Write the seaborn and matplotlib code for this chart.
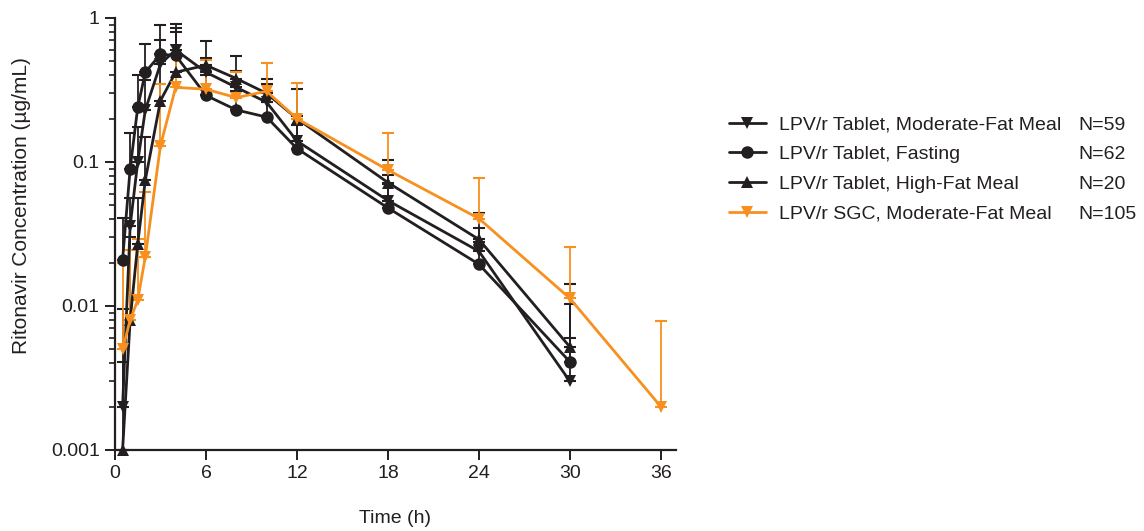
import numpy as np
import pandas as pd
import matplotlib
matplotlib.use("Agg")
import matplotlib.pyplot as plt
from matplotlib.ticker import FixedLocator, FixedFormatter, LogLocator, NullFormatter
import seaborn as sns

# ---------------- data ----------------
series_names = [
    "LPV/r Tablet, Moderate-Fat Meal",
    "LPV/r Tablet, Fasting",
    "LPV/r Tablet, High-Fat Meal",
    "LPV/r SGC, Moderate-Fat Meal",
]
series_n = ["N=59", "N=62", "N=20", "N=105"]

time_tab = [0.5, 1, 1.5, 2, 3, 4, 6, 8, 10, 12, 18, 24, 30]
time_sgc = [0.5, 1, 1.5, 2, 3, 4, 6, 8, 10, 12, 18, 24, 30, 36]

mod_mean = [0.002, 0.036, 0.10, 0.23, 0.48, 0.60, 0.42, 0.33, 0.26, 0.14, 0.054, 0.024, 0.003]
mod_upper = [0.0095, 0.056, 0.176, 0.37, 0.70, 0.91, 0.525, 0.43, 0.348, 0.209, 0.081, 0.035, 0.006]

fast_mean = [0.021, 0.09, 0.24, 0.42, 0.56, 0.55, 0.29, 0.23, 0.205, 0.124, 0.048, 0.0195, 0.0041]
fast_upper = [0.041, 0.16, 0.40, 0.656, 0.89, 0.85, 0.40, 0.31, 0.26, 0.18, 0.07, 0.028, 0.0103]

high_mean = [0.001, 0.008, 0.027, 0.075, 0.267, 0.42, 0.47, 0.38, 0.30, 0.20, 0.072, 0.029, 0.0052]
high_upper = [0.0041, 0.030, 0.056, 0.15, 0.50, 0.80, 0.69, 0.547, 0.375, 0.32, 0.104, 0.044, 0.0142]

sgc_mean = [0.005, 0.008, 0.011, 0.022, 0.13, 0.33, 0.32, 0.28, 0.31, 0.20, 0.088, 0.0405, 0.0113, 0.002]
sgc_upper = [0.02, 0.0245, 0.029, 0.062, 0.35, 0.65, 0.51, 0.424, 0.49, 0.356, 0.16, 0.078, 0.0256, 0.0079]

y_ticks = [0.001, 0.01, 0.1, 1]
y_tick_labels = ["0.001", "0.01", "0.1", "1"]
x_ticks = [0, 6, 12, 18, 24, 30, 36]

# ---------------- styling ----------------
BLACK = "#231f20"
ORANGE = "#f7901e"
colors = [BLACK, BLACK, BLACK, ORANGE]
markers = ["v", "o", "^", "v"]

sns.set_theme(style="ticks")
plt.rcParams["font.family"] = ["Liberation Sans", "DejaVu Sans"]

frames = []
for name, t, m in [
    (series_names[0], time_tab, mod_mean),
    (series_names[1], time_tab, fast_mean),
    (series_names[2], time_tab, high_mean),
    (series_names[3], time_sgc, sgc_mean),
]:
    frames.append(pd.DataFrame({"time": t, "conc": m, "group": name}))
df = pd.concat(frames, ignore_index=True)

fig = plt.figure(figsize=(11.44, 5.31), dpi=100)
ax = fig.add_axes([115 / 1144, 1 - 450 / 531, (676 - 115) / 1144, (450 - 18) / 531])

# error bars (upper only)
uppers = [mod_upper, fast_upper, high_upper, sgc_upper]
means = [mod_mean, fast_mean, high_mean, sgc_mean]
times = [time_tab, time_tab, time_tab, time_sgc]
for i in range(4):
    m = np.array(means[i])
    u = np.array(uppers[i])
    ax.errorbar(times[i], m, yerr=[np.zeros_like(m), u - m], fmt="none",
                ecolor=colors[i], elinewidth=1.3, capsize=4.3, capthick=1.5,
                zorder=2 + i)

sns.lineplot(data=df, x="time", y="conc", hue="group", style="group",
             hue_order=series_names, style_order=series_names,
             palette=dict(zip(series_names, colors)),
             markers=dict(zip(series_names, markers)),
             dashes=False, markersize=9, markeredgewidth=0,
             linewidth=2.0, ax=ax, legend=True, zorder=5)

for ln in ax.get_lines():
    ln.set_clip_on(False)
    if matplotlib.colors.to_hex(ln.get_color()) == ORANGE:
        ln.set_zorder(8)

ax.set_yscale("log")
ax.set_ylim(0.001, 1)
ax.set_xlim(0, 37)
ax.yaxis.set_major_locator(FixedLocator(y_ticks))
ax.yaxis.set_major_formatter(FixedFormatter(y_tick_labels))
ax.yaxis.set_minor_locator(LogLocator(base=10, subs=np.arange(2, 10)))
ax.yaxis.set_minor_formatter(NullFormatter())
ax.set_xticks(x_ticks)
ax.set_xticklabels([str(v) for v in x_ticks])

for s in ["top", "right"]:
    ax.spines[s].set_visible(False)
for s in ["left", "bottom"]:
    ax.spines[s].set_color(BLACK)
    ax.spines[s].set_linewidth(1.6)

ax.tick_params(axis="both", which="major", direction="out", length=7, width=1.4,
               colors=BLACK, labelsize=14, pad=4)
ax.tick_params(axis="y", which="minor", direction="out", length=4, width=1.2, colors=BLACK)
ax.tick_params(axis="x", which="minor", length=0)

ax.set_xlabel("Time (h)", fontsize=14, color=BLACK, labelpad=20)
ax.set_ylabel("Ritonavir Concentration (\u00b5g/mL)", fontsize=15, color=BLACK)
ax.yaxis.set_label_coords(-0.15, 0.565)
ax.grid(False)

# legend
handles, labels = ax.get_legend_handles_labels()
leg = ax.legend(handles, labels, loc="upper left",
                bbox_to_anchor=(729 / 1144, 1 - 116 / 531), bbox_transform=fig.transFigure,
                frameon=False, fontsize=14, handlelength=1.9, handletextpad=0.65,
                labelspacing=0.62, borderaxespad=0, borderpad=0)
for t in leg.get_texts():
    t.set_color(BLACK)

fig.canvas.draw()
renderer = fig.canvas.get_renderer()
inv = fig.transFigure.inverted()
for t, n in zip(leg.get_texts(), series_n):
    bb = t.get_window_extent(renderer)
    yc = inv.transform(((bb.x0 + bb.x1) / 2, (bb.y0 + bb.y1) / 2))[1]
    fig.text(1078 / 1144, yc, n, fontsize=14, color=BLACK, va="center", ha="left")

fig.savefig("out.png", dpi=100)
